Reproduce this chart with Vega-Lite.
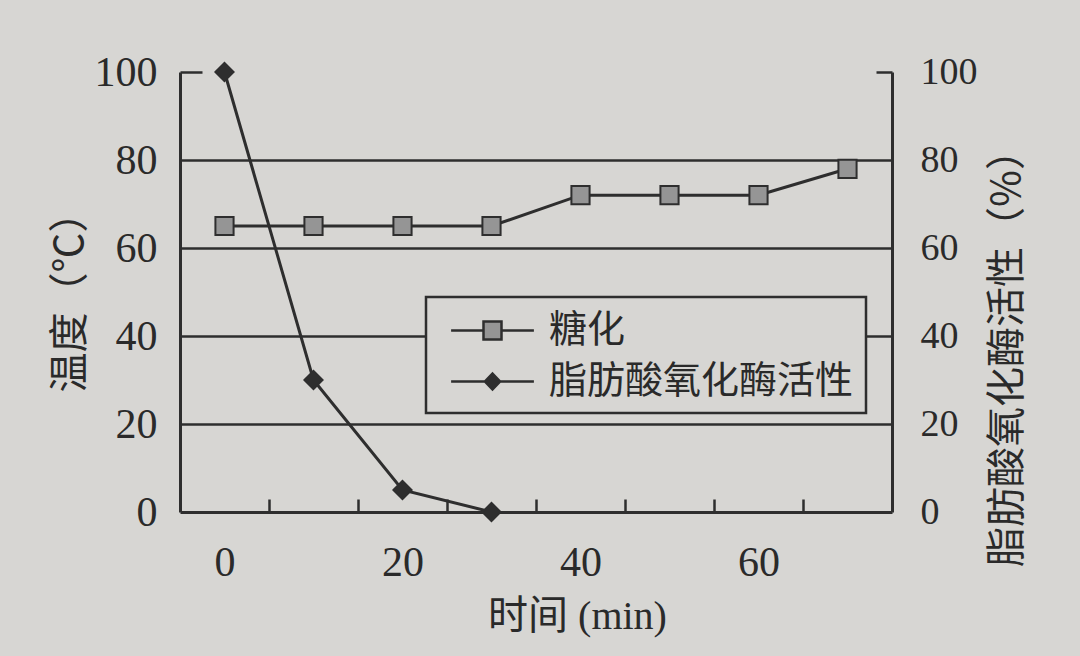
{
  "$schema": "https://vega.github.io/schema/vega-lite/v6.json",
  "width": 712,
  "height": 440,
  "autosize": "none",
  "padding": {"left": 180, "top": 72, "right": 188, "bottom": 144},
  "background": "#d7d6d3",
  "view": {"stroke": null},
  "config": {"legend": {"strokeWidth": 2.5}},
  "data": {
    "values": [
      {"time": 0, "series": "糖化", "value": 65},
      {"time": 10, "series": "糖化", "value": 65},
      {"time": 20, "series": "糖化", "value": 65},
      {"time": 30, "series": "糖化", "value": 65},
      {"time": 40, "series": "糖化", "value": 72},
      {"time": 50, "series": "糖化", "value": 72},
      {"time": 60, "series": "糖化", "value": 72},
      {"time": 70, "series": "糖化", "value": 78},
      {"time": 0, "series": "脂肪酸氧化酶活性", "value": 100},
      {"time": 10, "series": "脂肪酸氧化酶活性", "value": 30},
      {"time": 20, "series": "脂肪酸氧化酶活性", "value": 5},
      {"time": 30, "series": "脂肪酸氧化酶活性", "value": 0}
    ]
  },
  "encoding": {
    "x": {
      "field": "time",
      "type": "quantitative",
      "scale": {"domain": [-5, 75], "nice": false, "zero": false},
      "axis": {
        "values": [0, 5, 15, 20, 25, 35, 40, 45, 55, 60, 65],
        "labelExpr": "datum.value % 20 == 0 ? datum.label : ''",
        "labelOverlap": false,
        "labelFlush": false,
        "grid": false,
        "tickOpacity": {"condition": {"test": "datum.value % 10 == 5", "value": 1}, "value": 0},
        "tickSize": -13,
        "tickWidth": 2.5,
        "tickColor": "#2e2e2e",
        "domainColor": "#2e2e2e",
        "domainWidth": 3,
        "labelPadding": 43,
        "labelFont": "Liberation Serif",
        "labelFontSize": 42,
        "labelColor": "#2a2a2a",
        "title": "时间 (min)",
        "titleFont": "Liberation Serif, Noto Sans CJK SC",
        "titleFontSize": 40,
        "titleFontWeight": "normal",
        "titleColor": "#2a2a2a",
        "titlePadding": 13,
        "titleX": 397
      }
    }
  },
  "layer": [
    {
      "mark": {"type": "line", "stroke": "#2e2e2e", "strokeWidth": 3},
      "encoding": {
        "detail": {"field": "series", "type": "nominal"},
        "y": {
          "field": "value",
          "type": "quantitative",
          "scale": {"domain": [0, 100], "nice": false},
          "axis": {
            "orient": "left",
            "values": [0, 20, 40, 60, 80, 100],
            "grid": true,
            "gridOpacity": {"condition": {"test": "datum.value > 0 && datum.value < 100", "value": 1}, "value": 0},
            "gridColor": "#2e2e2e",
            "gridWidth": 2.5,
            "tickOpacity": {"condition": {"test": "datum.value == 100", "value": 1}, "value": 0},
            "tickSize": -22,
            "tickWidth": 2.5,
            "tickColor": "#2e2e2e",
            "domainColor": "#2e2e2e",
            "domainWidth": 3,
            "labelPadding": 45,
            "labelFont": "Liberation Serif",
            "labelFontSize": 42,
            "labelColor": "#2a2a2a",
            "title": "温度（℃）",
            "titleFont": "Noto Sans CJK SC",
            "titleFontSize": 40,
            "titleFontWeight": "normal",
            "titleColor": "#2a2a2a",
            "titlePadding": 4
          }
        }
      }
    },
    {
      "mark": {"type": "point", "filled": true, "opacity": 1, "stroke": "#2e2e2e", "strokeWidth": 2, "size": 330},
      "encoding": {
        "y": {
          "field": "value",
          "type": "quantitative",
          "scale": {"domain": [0, 100], "nice": false},
          "axis": {
            "orient": "right",
            "values": [0, 20, 40, 60, 80, 100],
            "grid": false,
            "tickOpacity": {"condition": {"test": "datum.value == 100", "value": 1}, "value": 0},
            "tickSize": -16,
            "tickWidth": 2.5,
            "tickColor": "#2e2e2e",
            "domainColor": "#2e2e2e",
            "domainWidth": 3,
            "labelPadding": 44,
            "labelFont": "Liberation Serif",
            "labelFontSize": 38,
            "labelColor": "#2a2a2a",
            "title": "脂肪酸氧化酶活性（%）",
            "titleFont": "Noto Sans CJK SC",
            "titleFontSize": 40,
            "titleFontWeight": "normal",
            "titleColor": "#2a2a2a",
            "titleAngle": 270,
            "titleBaseline": "middle",
            "titleX": 115,
            "titleY": 276
          }
        },
        "shape": {
          "field": "series",
          "type": "nominal",
          "scale": {"domain": ["糖化", "脂肪酸氧化酶活性"], "range": ["square", "diamond"]},
          "legend": null
        },
        "fill": {
          "field": "series",
          "type": "nominal",
          "scale": {"domain": ["糖化", "脂肪酸氧化酶活性"], "range": ["#959595", "#2e2e2e"]},
          "legend": null
        }
      }
    },
    {
      "mark": {"type": "point", "filled": true, "opacity": 1, "stroke": "#2e2e2e", "strokeWidth": 2.5, "size": 0},
      "encoding": {
        "y": {"field": "value", "type": "quantitative", "axis": null},
        "shape": {
          "field": "series",
          "type": "nominal",
          "scale": {
            "domain": ["糖化", "脂肪酸氧化酶活性"],
            "range": [
              "M-2.07,0H-0.45M0.45,0H2.07M-0.45,-0.45H0.45V0.45H-0.45Z",
              "M-2.07,0H2.07M0,-0.4L0.38,0L0,0.4L-0.38,0ZM0,-0.28L0.27,0L0,0.28L-0.27,0ZM0,-0.16L0.15,0L0,0.16L-0.15,0ZM0,-0.05L0.05,0L0,0.05L-0.05,0Z"
            ]
          },
          "legend": {
            "title": null,
            "orient": "none",
            "legendX": 246,
            "legendY": 225,
            "padding": 12,
            "strokeColor": "#2e2e2e",
            "fillColor": "#d7d6d3",
            "symbolSize": 1600,
            "symbolOffset": 33,
            "symbolStrokeWidth": 2.5,
            "symbolFillColor": "#959595",
            "labelOffset": 35,
            "rowPadding": 10,
            "labelFont": "Noto Sans CJK SC",
            "labelFontSize": 38,
            "labelColor": "#2a2a2a",
            "labelLimit": 600,
            "zindex": 2
          }
        },
        "fill": {
          "field": "series",
          "type": "nominal",
          "legend": {
            "title": null,
            "orient": "none",
            "legendX": 246,
            "legendY": 225,
            "padding": 12,
            "strokeColor": "#2e2e2e",
            "fillColor": "#d7d6d3",
            "symbolSize": 1600,
            "symbolOffset": 33,
            "symbolStrokeWidth": 2.5,
            "symbolFillColor": "#959595",
            "labelOffset": 35,
            "rowPadding": 10,
            "labelFont": "Noto Sans CJK SC",
            "labelFontSize": 38,
            "labelColor": "#2a2a2a",
            "labelLimit": 600,
            "zindex": 2
          }
        }
      }
    }
  ],
  "resolve": {"axis": {"y": "independent"}, "scale": {"shape": "independent"}}
}
